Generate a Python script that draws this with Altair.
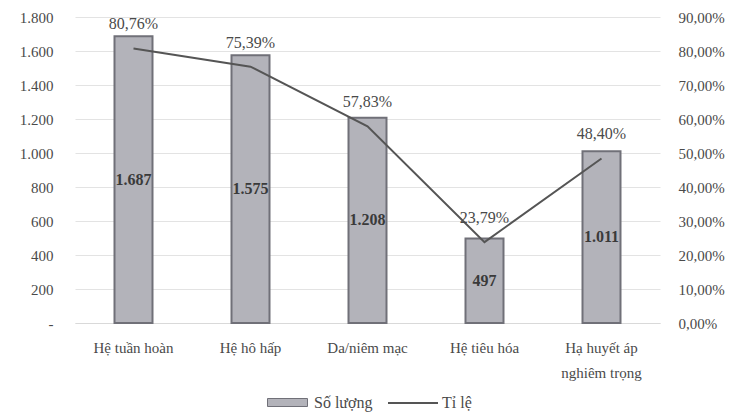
import altair as alt
import pandas as pd

categories = ["Hệ tuần hoàn", "Hệ hô hấp", "Da/niêm mạc", "Hệ tiêu hóa", "Hạ huyết áp|nghiêm trọng"]
counts = [1687, 1575, 1208, 497, 1011]
count_labels = ["1.687", "1.575", "1.208", "497", "1.011"]
rates = [80.76, 75.39, 57.83, 23.79, 48.40]
rate_labels = ["80,76%", "75,39%", "57,83%", "23,79%", "48,40%"]

df = pd.DataFrame({
    "cat": categories,
    "count": counts,
    "count_label": count_labels,
    "rate": rates,
    "rate_label": rate_labels,
    "s1": ["Số lượng"] * 5,
    "s2": ["Tỉ lệ"] * 5,
})

FONT = "Liberation Serif"
TXT = "#4a4a4a"

x = alt.X("cat:N", sort=categories, title=None,
          scale=alt.Scale(paddingInner=0, paddingOuter=0),
          axis=alt.Axis(labelExpr="split(datum.label, '|')", labelAngle=0,
                        labelFont=FONT, labelFontSize=15, labelColor=TXT,
                        labelPadding=24, labelLineHeight=25, ticks=False,
                        domainColor="#d9d9d9", labelBaseline="middle"))

base = alt.Chart(df).encode(x=x)

left_axis = alt.Axis(values=[0, 200, 400, 600, 800, 1000, 1200, 1400, 1600, 1800],
                     labelExpr="datum.value == 0 ? '-' : replace(format(datum.value, ','), ',', '.')",
                     labelFont=FONT, labelFontSize=15, labelColor=TXT, labelPadding=22,
                     ticks=False, domain=False, gridColor="#e3e3e3", title=None)

right_axis = alt.Axis(values=[0, 10, 20, 30, 40, 50, 60, 70, 80, 90],
                      labelExpr="replace(format(datum.value, '.2f'), '.', ',') + '%'",
                      labelFont=FONT, labelFontSize=15, labelColor=TXT, labelPadding=18,
                      ticks=False, domain=False, grid=False, title=None, orient="right")

yl = alt.Y("count:Q", scale=alt.Scale(domain=[0, 1800]), axis=left_axis)
yr = alt.Y("rate:Q", scale=alt.Scale(domain=[0, 90]), axis=right_axis)

bars = base.mark_bar(size=38, color="#b3b3ba", stroke="#707078", strokeWidth=2).encode(
    y=yl,
    fill=alt.Fill("s1:N", scale=alt.Scale(range=["#b3b3ba"]),
                  legend=alt.Legend(title=None, orient="none", legendX=192, legendY=365,
                                    symbolType="M-1,-0.2H1V0.2H-1Z", symbolSize=1600,
                                    symbolStrokeColor="#707078", symbolStrokeWidth=1,
                                    labelFont=FONT, labelFontSize=16, labelColor=TXT,
                                    labelOffset=6)),
)

bar_text = bars.transform_calculate(mid="datum.count / 2").mark_text(
    font=FONT, fontSize=16, fontWeight="bold", color="#3a3a3a", baseline="middle"
).encode(
    y=alt.Y("mid:Q", scale=alt.Scale(domain=[0, 1800]), axis=left_axis),
    text="count_label:N",
    fill=alt.value("#3a3a3a"),
)

line = base.mark_line(color="#555555", strokeWidth=2, interpolate="linear").encode(
    y=yr,
    stroke=alt.Stroke("s2:N", scale=alt.Scale(range=["#555555"]),
                      legend=alt.Legend(title=None, orient="none", legendX=312, legendY=360,
                                        symbolType="stroke", symbolSize=2500,
                                        symbolStrokeWidth=2,
                                        labelFont=FONT, labelFontSize=16, labelColor=TXT,
                                        labelOffset=3)),
)

line_text = base.mark_text(font=FONT, fontSize=16, color=TXT, dy=-24, baseline="middle").encode(
    y=yr,
    text="rate_label:N",
)

left = alt.layer(bars, bar_text)
right = alt.layer(line, line_text)

chart = alt.layer(left, right).resolve_scale(y="independent").properties(
    width=585, height=306,
    background="white",
    autosize=alt.AutoSizeParams(type="none"),
    padding={"left": 75, "top": 17, "right": 85, "bottom": 90},
).configure_view(strokeWidth=0, stroke="transparent").configure_axisY(domain=False)

chart.save("out.html", embed_options={"renderer": "svg", "actions": False})
